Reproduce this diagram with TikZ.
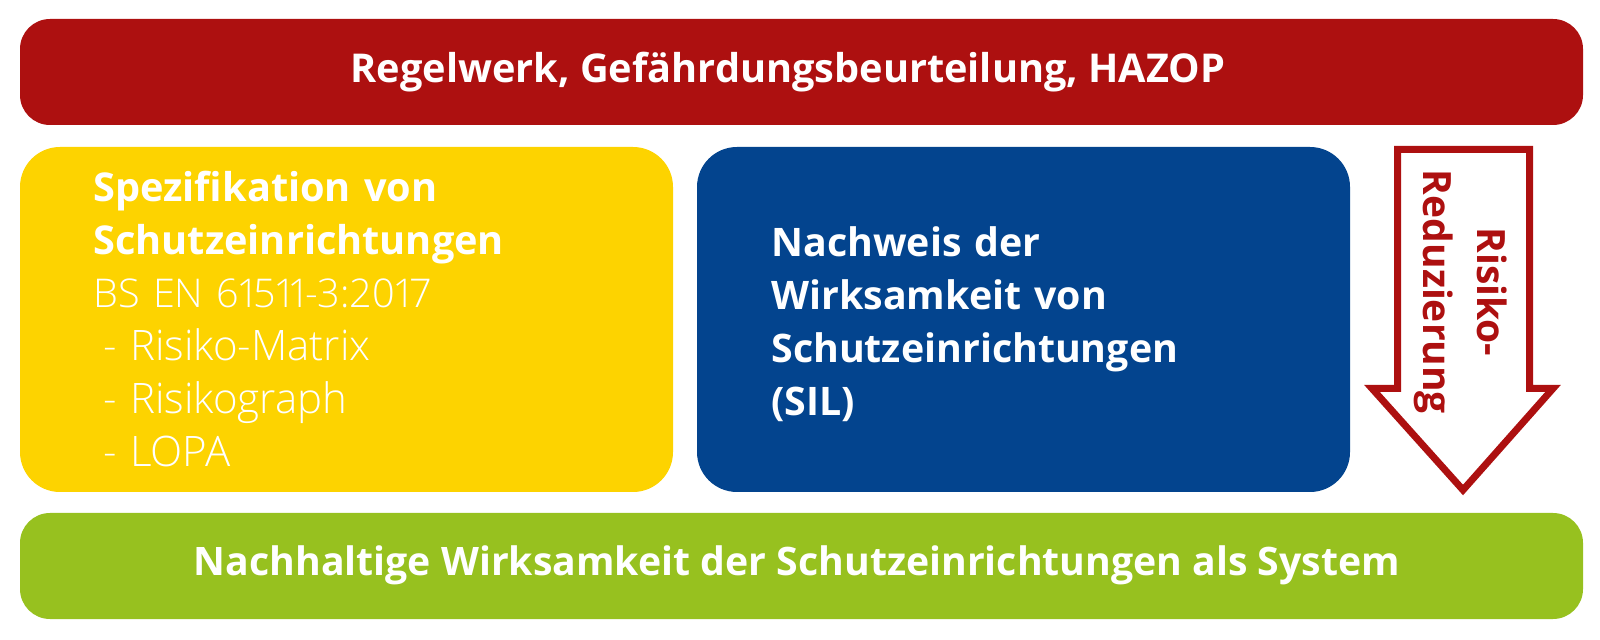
\documentclass[tikz,border=0pt]{standalone}
\usepackage{fontspec}
\IfFontExistsTF{Open Sans SemiBold}{%
  \setmainfont{Open Sans}[BoldFont={Open Sans SemiBold}]\def\bscale{1.0}}{%
  \setmainfont{Open Sans}\def\bscale{0.945}}
\IfFontExistsTF{Open Sans Light}{\newfontfamily\lightfont{Open Sans Light}[Numbers=Proportional]}{%
  \IfFontExistsTF{Fira Sans Light}{\newfontfamily\lightfont{Fira Sans Light}}{\newfontfamily\lightfont{Open Sans}}}
\definecolor{cred}{HTML}{AD1010}
\definecolor{cyellow}{HTML}{FDD300}
\definecolor{cblue}{HTML}{03448E}
\definecolor{cgreen}{HTML}{97C11F}
\newcommand{\bfsz}[1]{\bfseries\fontsize{\fpeval{#1*\bscale}}{26.5}\selectfont}
\tikzset{
  bar/.style={rounded corners=15pt},
  bigbox/.style={rounded corners=20pt},
  boxtext/.style={text=white, inner sep=0pt, align=left, text width=300pt},
}
\begin{document}
\begin{tikzpicture}[x=0.5pt,y=-0.5pt]
\useasboundingbox (0,0) rectangle (1600,640);
% bars and boxes
\fill[cred,bar] (20,19) rectangle (1583,125);
\fill[cyellow,bigbox] (20,147) rectangle (673,492);
\fill[cblue,bigbox] (697,147) rectangle (1350,492);
\fill[cgreen,bar] (20,513) rectangle (1583,619);
% titles
\node[text=white, inner sep=0pt, anchor=base, font=\bfsz{21}] (top) at (788,83) {Regelwerk, Gefährdungsbeurteilung, HAZOP};
\node[text=white, inner sep=0pt, anchor=base, font=\bfsz{20.75}] (bottom) at (797,575) {Nachhaltige Wirksamkeit der Schutzeinrichtungen als System};
% yellow text
\node[boxtext, anchor=base west, font=\bfsz{21}] (spec) at (93,202) {%
Spezifikation von\\Schutzeinrichtungen\\
{\mdseries\lightfont\fontsize{21}{26.5}\selectfont {\fontsize{19.8}{26.5}\selectfont BS EN 61511-3:2017}\\
\hspace*{5pt}- Risiko-Matrix\\
\hspace*{5pt}- Risikograph\\
\hspace*{5pt}- LOPA}};
% blue text
\node[boxtext, anchor=base west, font=\bfsz{20.8}] (sil) at (771,257) {Nachweis der\\Wirksamkeit von\\Schutzeinrichtungen\\(SIL)};
% arrow
\draw[cred, line width=3.5pt, miter limit=10] (1397.5,149.5) -- (1529.5,149.5) -- (1529.5,388.5) -- (1553,388.5) -- (1463,490) -- (1372,388.5) -- (1397.5,388.5) -- cycle;
\node[text=cred, inner sep=0pt, rotate=-90, align=center, font=\bfseries\fontsize{19.5}{27}\selectfont] (rr) at (1461,292) {Risiko-\\Reduzierung};
\end{tikzpicture}
\end{document}
